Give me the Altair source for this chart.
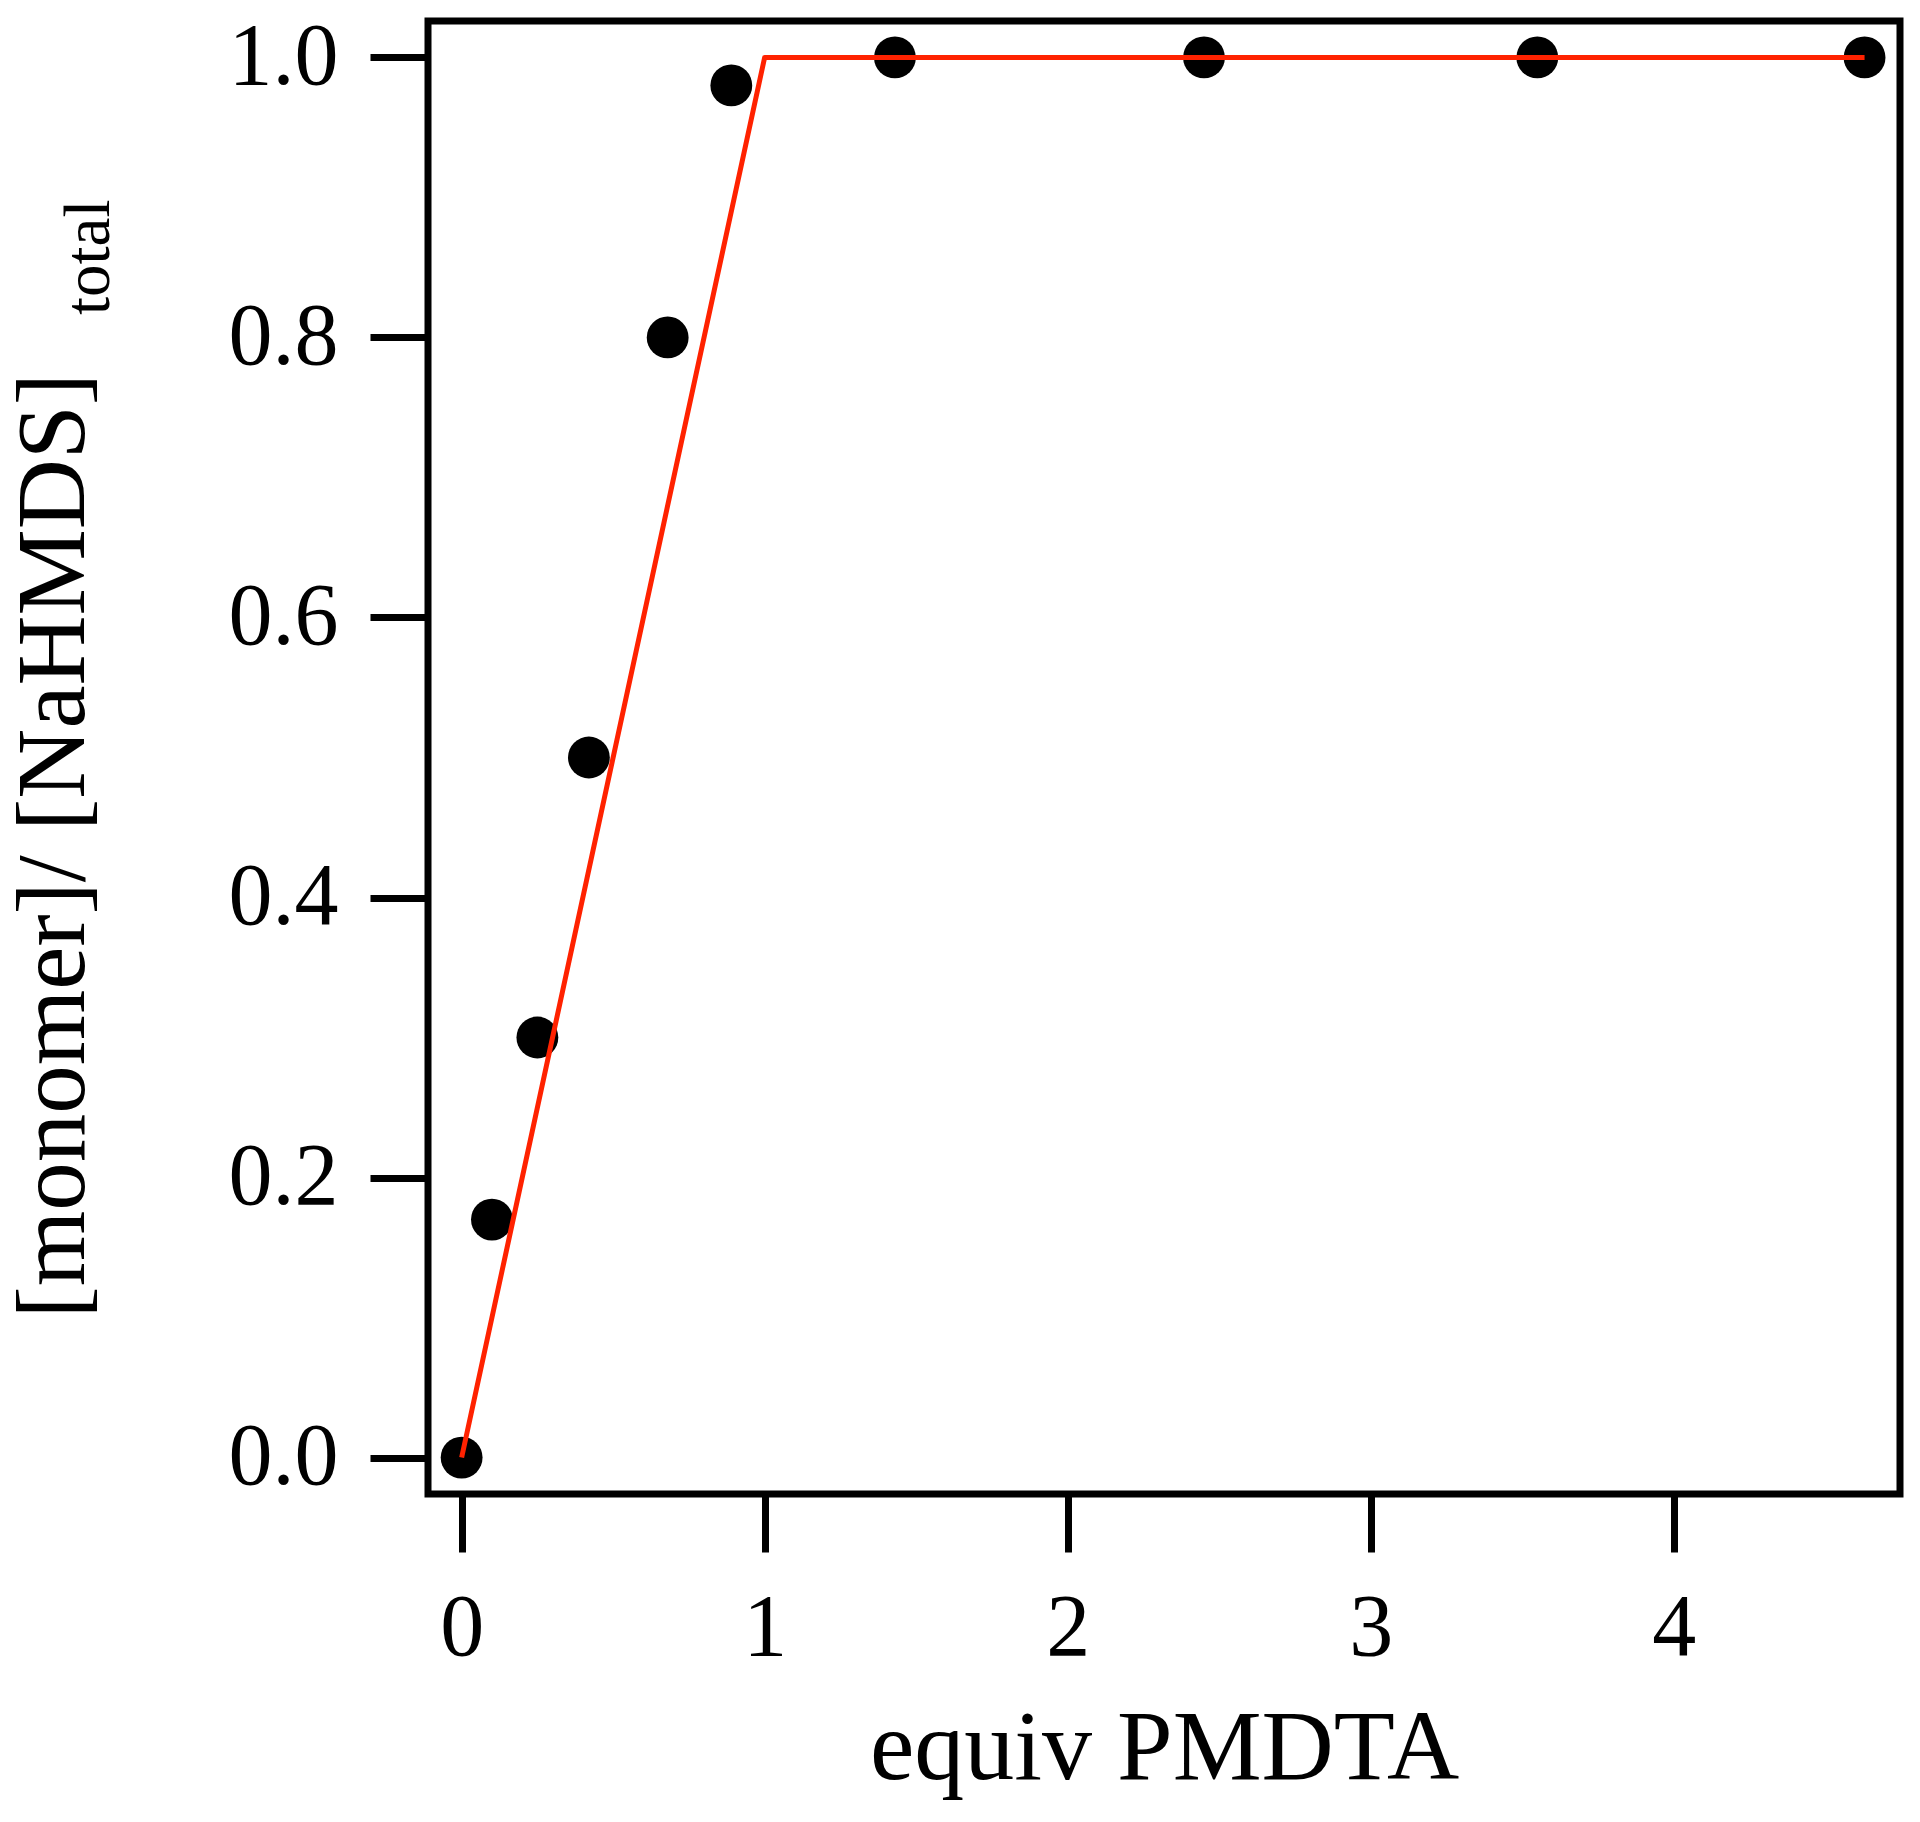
import altair as alt
import pandas as pd

# measured data points
equiv = [0.0, 0.10, 0.25, 0.42, 0.68, 0.89, 1.43, 2.45, 3.55, 4.63]
fraction = [0.0, 0.17, 0.30, 0.50, 0.80, 0.98, 1.0, 1.0, 1.0, 1.0]

# fitted model line
fit_x = [0.0, 1.0, 4.63]
fit_y = [0.0, 1.0, 1.0]

x_ticks = [0, 1, 2, 3, 4]
y_ticks = [0.0, 0.2, 0.4, 0.6, 0.8, 1.0]

pts = pd.DataFrame({"x": equiv, "y": fraction})
fit = pd.DataFrame({"x": fit_x, "y": fit_y})

FONT = "Liberation Serif"

xscale = alt.Scale(domain=[-0.111, 4.747], nice=False, zero=False)
yscale = alt.Scale(domain=[-0.026, 1.026], nice=False, zero=False)

xaxis = alt.Axis(
    values=x_ticks, format="d", domain=False, grid=False,
    tickSize=58, tickWidth=7, tickColor="black",
    labelFont=FONT, labelFontSize=88, labelColor="black", labelPadding=32,
    title="equiv PMDTA", titleFont=FONT, titleFontSize=100, titleFontWeight="normal",
    titleColor="black", titleBaseline="alphabetic", titleY=284,
)
yaxis = alt.Axis(
    values=y_ticks, format=".1f", domain=False, grid=False,
    tickSize=58, tickWidth=7, tickColor="black",
    labelFont=FONT, labelFontSize=88, labelColor="black", labelPadding=32,
    title="[monomer]/ [NaHMDS]", titleFont=FONT, titleFontSize=97, titleFontWeight="normal",
    titleColor="black", titleAngle=270, titleBaseline="alphabetic", titleAlign="left",
    titleX=-345, titleY=1297,
)

points = alt.Chart(pts).mark_point(filled=True, color="black", opacity=1, size=1750, shape="circle").encode(
    x=alt.X("x:Q", scale=xscale, axis=xaxis),
    y=alt.Y("y:Q", scale=yscale, axis=yaxis),
)

line = alt.Chart(fit).mark_line(color="#ff2200", strokeWidth=5, strokeJoin="round").encode(
    x=alt.X("x:Q", scale=xscale),
    y=alt.Y("y:Q", scale=yscale),
)

sub = alt.Chart(pd.DataFrame({"t": ["total"]})).mark_text(
    font=FONT, fontSize=65, angle=270, align="left", baseline="alphabetic", color="black"
).encode(
    text="t:N",
    x=alt.value(-319),
    y=alt.value(294),
)

chart = alt.layer(points, line, sub).properties(
    width=1472, height=1473,
    padding={"left": 420, "top": 13, "right": 10, "bottom": 320},
    autosize="none",
    background="white",
).configure_view(stroke="black", strokeWidth=7)

chart.save("out.html", embed_options={"renderer": "svg", "actions": False})
